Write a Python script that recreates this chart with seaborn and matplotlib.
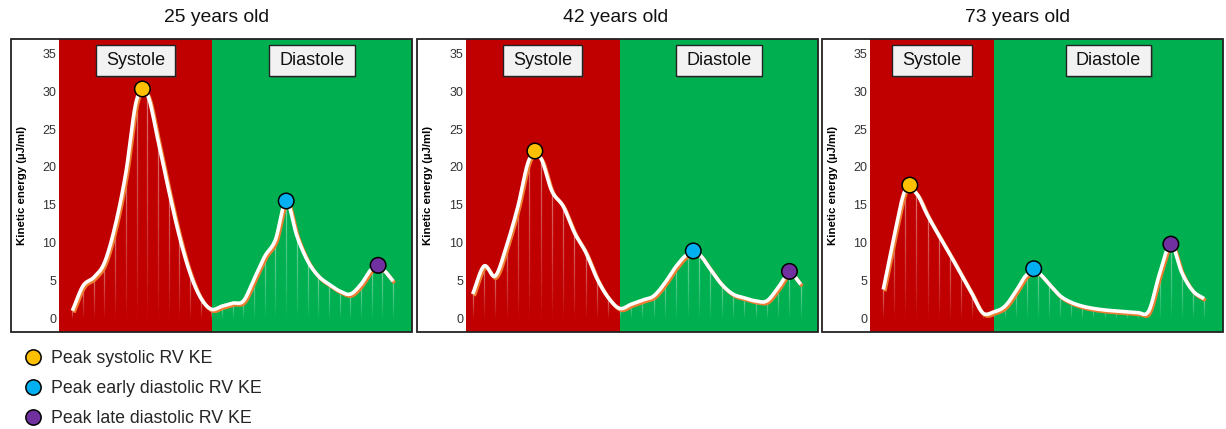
import numpy as np
import pandas as pd
import matplotlib
matplotlib.use("Agg")
import matplotlib.pyplot as plt
import matplotlib.patheffects as pe
from matplotlib.patches import Rectangle
from matplotlib.collections import LineCollection
from matplotlib.lines import Line2D
import seaborn as sns

# ---------------- data ----------------
titles = ["25 years old", "42 years old", "73 years old"]
phase_labels = ["Systole", "Diastole"]

ke_25 = [1.0, 4.3, 5.4, 7.35, 12.2, 19.2, 28.8, 29.6, 23.6, 17.0, 10.9, 6.0, 2.7, 1.2,
         1.6, 2.0, 2.3, 5.2, 8.2, 10.4, 15.5, 10.9, 7.6, 5.6, 4.5, 3.6, 3.2, 4.5, 6.5, 6.5, 4.9]
ke_42 = [3.2, 6.9, 5.6, 9.6, 14.8, 21.0, 21.2, 16.8, 14.8, 11.3, 8.7, 5.2, 2.7, 1.3,
         1.85, 2.4, 2.95, 4.7, 6.9, 8.45, 8.45, 6.5, 4.5, 3.2, 2.7, 2.3, 2.3, 4.05, 6.0, 4.5]
ke_73 = [3.8, 11.0, 17.0, 16.5, 13.6, 11.0, 8.5, 5.9, 3.3, 0.7, 0.85, 1.6, 3.6, 5.8,
         6.0, 4.5, 2.95, 2.1, 1.6, 1.3, 1.1, 0.97, 0.85, 0.75, 0.97, 6.0, 9.8, 6.0, 3.6, 2.6]
series = [ke_25, ke_42, ke_73]

systole_end = [13.1, 13.0, 10.0]          # frame where diastole begins

peak_names = ["Peak systolic RV KE", "Peak early diastolic RV KE", "Peak late diastolic RV KE"]
peak_frame = [[6.55, 5.5, 2.4], [20.0, 19.5, 13.6], [28.6, 28.0, 26.0]]
peak_value = [[30.3, 22.1, 17.6], [15.5, 8.9, 6.55], [7.0, 6.2, 9.8]]

yticks = [0, 5, 10, 15, 20, 25, 30, 35]
ylabel = "Kinetic energy (\u00b5J/ml)"

# ---------------- style ----------------
sns.set_style("white")
plt.rcParams["font.family"] = ["Liberation Sans", "DejaVu Sans"]

RED = "#C00000"
GREEN = "#00B050"
peak_colors = ["#FFC000", "#00B0F0", "#7030A0"]
ORANGE = "#ED7D31"

W, H = 1226, 429
fig = plt.figure(figsize=(W / 100, H / 100), dpi=100)
renderer = fig.canvas.get_renderer()

# pixel layout
ax_left = [59, 466, 870]
ax_right = [411.7, 818.3, 1223.3]
frame_left = [11, 416.7, 821.7]
title_shift = [5, -2, -5]
y_top, y_bot = 39, 332.3
xlims = [(-1.25, 31.74), (-0.59, 30.55), (-1.2, 30.74)]
ylim = (-1.85, 36.9)
box_pad_x, box_h = 10, 31   # pixels


def hermite(y, n=24):
    y = np.asarray(y, float)
    k = len(y)
    m = np.empty(k)
    m[1:-1] = (y[2:] - y[:-2]) / 2
    m[0] = y[1] - y[0]
    m[-1] = y[-1] - y[-2]
    xs, ys = [], []
    t = np.linspace(0, 1, n, endpoint=False)
    h00 = 2 * t**3 - 3 * t**2 + 1
    h10 = t**3 - 2 * t**2 + t
    h01 = -2 * t**3 + 3 * t**2
    h11 = t**3 - t**2
    for i in range(k - 1):
        xs.append(i + t)
        ys.append(h00 * y[i] + h10 * m[i] + h01 * y[i + 1] + h11 * m[i + 1])
    xs.append([k - 1])
    ys.append([y[-1]])
    return np.concatenate(xs), np.concatenate(ys)


def style_labels(ax, p):
    ax.set_xlabel("")
    ax.set_ylabel(ylabel, fontsize=8.2, fontweight="bold", color="black")
    ax.yaxis.set_label_coords((frame_left[p] + 16 - ax_left[p]) / (ax_right[p] - ax_left[p]), 0.5)


for p in range(3):
    x0 = ax_left[p] / W
    w = (ax_right[p] - ax_left[p]) / W
    b = 1 - y_bot / H
    h = (y_bot - y_top) / H
    ax = fig.add_axes([x0, b, w, h])
    ax.set_xlim(*xlims[p])
    ax.set_ylim(*ylim)
    for s in ax.spines.values():
        s.set_visible(False)
    ax.set_xticks([])
    ax.set_yticks(yticks)
    ax.tick_params(axis="y", length=0, pad=2, labelsize=9, labelcolor="#333333")
    ax.set_facecolor("white")

    # phase backgrounds
    ax.axvspan(xlims[p][0], systole_end[p], color=RED, lw=0, zorder=0)
    ax.axvspan(systole_end[p], xlims[p][1], color=GREEN, lw=0, zorder=0)

    vals = np.asarray(series[p], float)
    frames = np.arange(len(vals))

    # fading white stems
    segs, cols = [], []
    nseg = 14
    for fx, fv in zip(frames, vals):
        edges = np.linspace(0.0, fv, nseg + 1)
        for j in range(nseg):
            segs.append([(fx, edges[j]), (fx, edges[j + 1])])
            a = 0.45 * ((j + 0.5) / nseg) ** 0.8
            cols.append((1, 1, 1, a))
    ax.add_collection(LineCollection(segs, colors=cols, linewidths=0.9, zorder=2))

    # smoothed curve
    sx, sy = hermite(vals)
    df = pd.DataFrame({"frame": sx, "ke": sy})
    sns.lineplot(data=df, x="frame", y="ke", ax=ax, color="white", lw=2.6,
                 sort=False, estimator=None, zorder=3)
    line = ax.lines[-1]
    line.set_solid_capstyle("butt")
    line.set_path_effects([pe.SimpleLineShadow(offset=(1.1, -1.3), shadow_color=ORANGE,
                                               alpha=1.0), pe.Normal()])

    # peak markers
    pk = pd.DataFrame({"frame": [peak_frame[i][p] for i in range(3)],
                       "ke": [peak_value[i][p] for i in range(3)],
                       "kind": peak_names})
    sns.scatterplot(data=pk, x="frame", y="ke", hue="kind", palette=peak_colors,
                    hue_order=peak_names, s=125, edgecolor="black", linewidth=1.1,
                    ax=ax, zorder=5, legend=False)
    style_labels(ax, p)

    # phase label boxes
    px_per_x = (ax_right[p] - ax_left[p]) / (xlims[p][1] - xlims[p][0])
    px_per_y = (y_bot - y_top) / (ylim[1] - ylim[0])
    centers = [(xlims[p][0] + systole_end[p]) / 2, (systole_end[p] + xlims[p][1]) / 2]
    for c, lab in zip(centers, phase_labels):
        t = ax.text(c, 34.0, lab, ha="center", va="center", fontsize=13, color="#111111",
                    zorder=7)
        tw = t.get_window_extent(renderer).width
        bw = (tw + 2 * box_pad_x) / px_per_x
        bh = box_h / px_per_y
        r = Rectangle((c - bw / 2, 34.0 - bh / 2), bw, bh, fc="#F2F2F2", ec="#222222",
                      lw=1.0, zorder=6)
        r.set_path_effects([pe.SimplePatchShadow(offset=(1.2, -1.2), alpha=0.35), pe.Normal()])
        ax.add_patch(r)

    # outer frame
    fig.add_artist(Rectangle((frame_left[p] / W, b), (ax_right[p] - frame_left[p]) / W, h,
                             transform=fig.transFigure, fill=False, ec="#222222", lw=1.3,
                             zorder=10))
    # title
    fig.text(((frame_left[p] + ax_right[p]) / 2 + title_shift[p]) / W, 1 - 18 / H, titles[p],
             ha="center", va="center", fontsize=13.9, color="#111111")

handles = [Line2D([], [], ls="none", marker="o", ms=11, mfc=c, mec="black", mew=1.1)
           for c in peak_colors]
fig.legend(handles, peak_names, loc="upper left", bbox_to_anchor=(0.0195, 1 - 350 / H),
           frameon=False, fontsize=12.8, handlelength=1.0, handletextpad=0.5,
           labelspacing=0.74, borderpad=0, borderaxespad=0)

fig.savefig("out.png", dpi=100)
